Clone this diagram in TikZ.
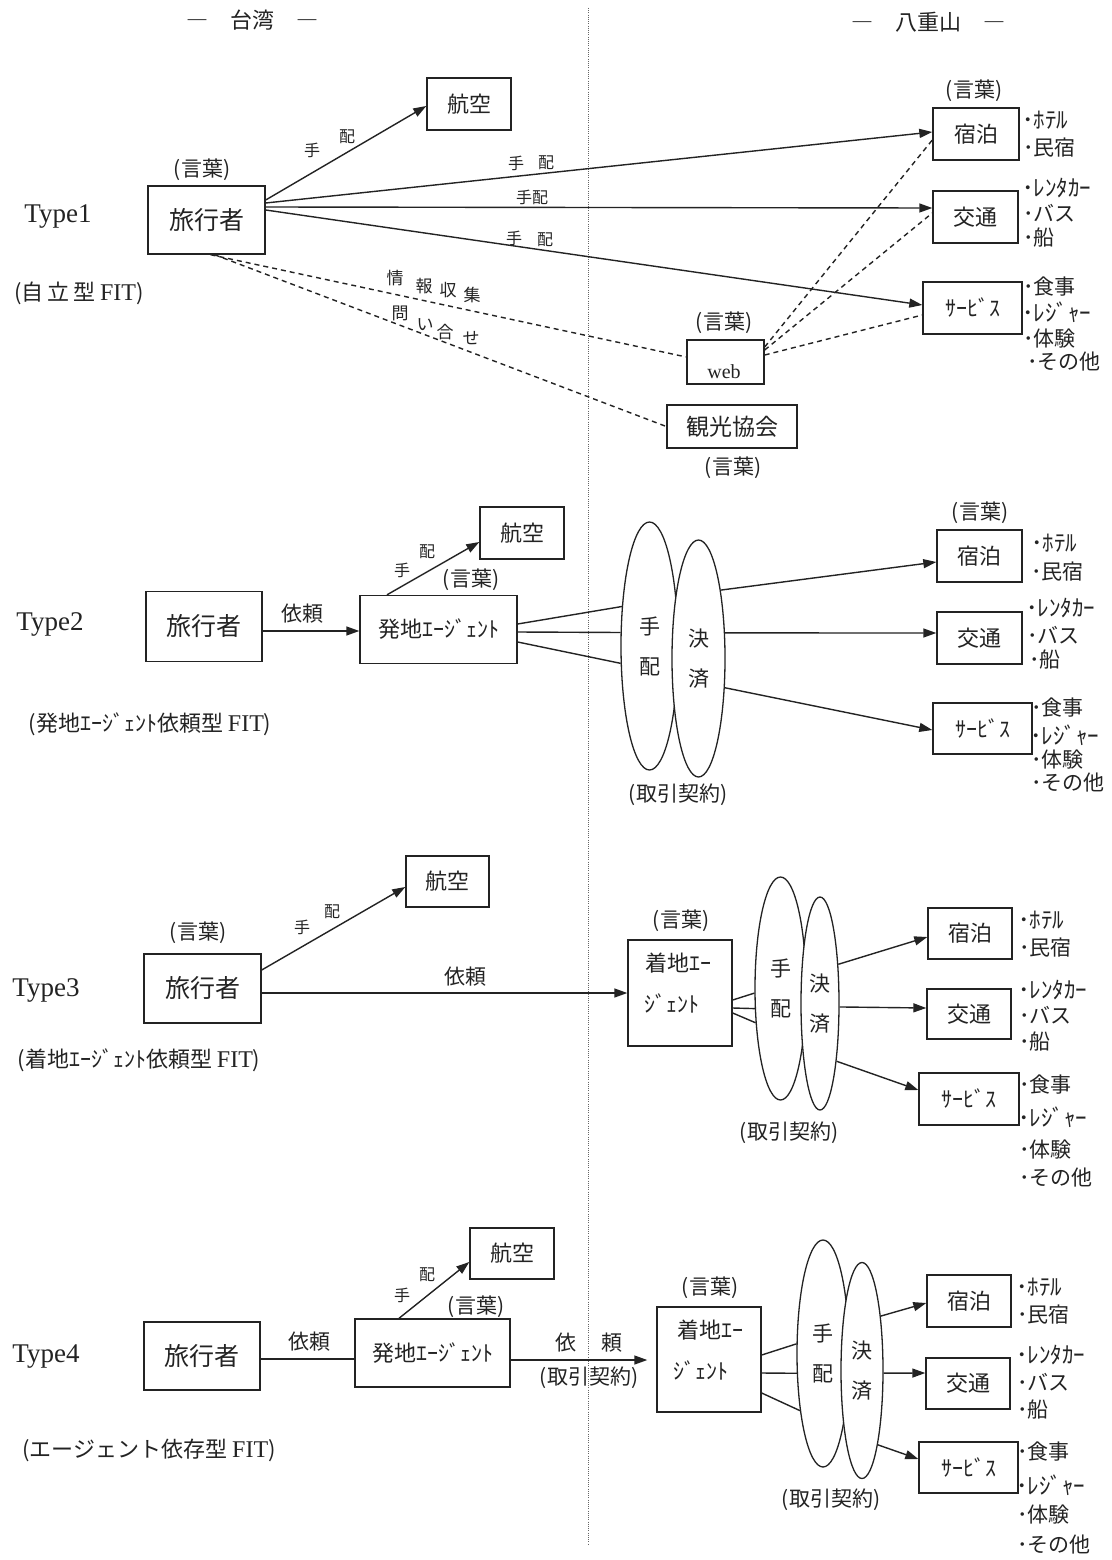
\documentclass[tikz,border=0pt]{standalone}
\usepackage{fontspec}
\setmainfont{Noto Sans CJK JP}
\newfontfamily\lat{Liberation Serif}
\usetikzlibrary{arrows.meta,shapes.geometric}
\newcommand\FS[1]{\fontsize{#1}{#1}\selectfont}
\newcommand\FIT{{\lat\FS{24}FIT}}
\definecolor{ink}{RGB}{35,35,35}
\begin{document}
\begin{tikzpicture}[x=1pt,y=-1pt,
  every node/.style={text=ink},
  bx/.style={draw=ink, line width=1.4pt, inner sep=0pt, font=\FS{22}},
  ell/.style={ellipse, draw=ink, line width=1.3pt, fill=white, inner sep=0pt, align=center, font=\fontsize{21}{40}\selectfont},
  arr/.style={draw=ink, line width=1.4pt, -{Triangle[length=13pt,width=9pt]}},
  ln/.style={draw=ink, line width=1.4pt},
  dsh/.style={draw=ink, line width=1.4pt, dash pattern=on 5pt off 4pt},
  lbl/.style={font=\FS{16}, inner sep=0pt},
  lblb/.style={font=\FS{17}, inner sep=0pt},
  kw/.style={font=\FS{21}, inner sep=0pt},
  txt/.style={font=\FS{22}, inner sep=0pt},
  blt/.style={anchor=west, inner sep=0pt, font=\FS{21}},
  hblt/.style={anchor=west, inner sep=0pt, font=\FS{23}},
  typ/.style={font=\lat\FS{27}, inner sep=0pt},
  sub/.style={font=\FS{22}, inner sep=0pt},
  divider/.style={draw=ink!70, line width=0.9pt, dash pattern=on 1pt off 1.2pt}
]
\fill[white] (0,0) rectangle (1111,1560);
\useasboundingbox (0,0) rectangle (1111,1560);

% headers and divider
\node[font=\FS{22}] (hdrL) at (252,20) {―　台湾　―};
\node[font=\FS{22}] (hdrR) at (928,22) {―　八重山　―};
\coordinate (dtop) at (588,8);
\coordinate (dbot) at (588,1545);
\draw[divider] (dtop) -- (dbot);

%================ Type1
\node[typ] (ty1) at (58,217) {Type1};
\node[sub] (st1) at (79,293) {(自\,立\,型 \FIT)};
\node[bx, minimum width=117, minimum height=68, font=\FS{25}] (tr1) at (206.5,220) {旅行者};
\node[kw] (k1) at (202,170) {(言葉)};
\node[bx, minimum width=84, minimum height=52] (air1) at (469,104) {航空};
\node[bx, minimum width=86, minimum height=52] (acc1) at (976,134) {宿泊};
\node[kw] (k1b) at (974,91) {(言葉)};
\node[bx, minimum width=85, minimum height=52] (trn1) at (975.5,217) {交通};
\node[bx, minimum width=99, minimum height=52, font=\FS{22}] (srv1) at (972.5,308) {ｻｰﾋﾞｽ};
\node[bx, minimum width=77, minimum height=44] (web) at (725.5,362) {};
\node[font=\lat\FS{20}, inner sep=0pt] (webt) at (724,372) {web};
\node[kw] (k1c) at (724,323) {(言葉)};
\node[bx, minimum width=130, minimum height=43, font=\FS{23}] (kk) at (732,426.5) {観光協会};
\node[kw] (k1d) at (733,468) {(言葉)};

\draw[arr] ([yshift=20pt]tr1.east) -- ([yshift=-2pt]air1.west);
\draw[arr] ([yshift=17pt]tr1.east) -- ([yshift=2pt]acc1.west);
\draw[arr] ([yshift=13pt]tr1.east) -- ([yshift=9pt]trn1.west);
\draw[arr] ([yshift=10pt]tr1.east) -- ([yshift=3pt]srv1.west);
\draw[dsh] ([xshift=4pt]tr1.south) -- ([yshift=5pt]web.west);
\draw[dsh] ([xshift=8pt]tr1.south) -- (kk.west);
\draw[dsh] ([yshift=15pt]web.east) -- ([yshift=-6pt]acc1.west);
\draw[dsh] ([yshift=12pt]web.east) -- ([yshift=4pt]trn1.west);
\draw[dsh] ([yshift=7pt]web.east) -- ([yshift=-7pt]srv1.west);

\node[lbl] (l1a) at (312,150) {手};
\node[lbl] (l1b) at (347,137) {配};
\node[lbl] (l1c) at (516,163) {手};
\node[lbl] (l1d) at (546,163) {配};
\node[lbl] (l1e) at (532,197) {手配};
\node[lbl] (l1f) at (514,238) {手};
\node[lbl] (l1g) at (545,240) {配};
\node[lblb] (j1) at (395,278) {情};
\node[lblb] (j2) at (424,286) {報};
\node[lblb] (j3) at (448,290) {収};
\node[lblb] (j4) at (472,295) {集};
\node[lblb] (q1) at (400,313) {問};
\node[lblb] (q2) at (425,325) {い};
\node[lblb] (q3) at (445,332) {合};
\node[lblb] (q4) at (471,338) {せ};

\node[hblt] (b1a) at (1022,120) {･ﾎﾃﾙ};
\node[blt] (b1b) at (1023,148) {･民宿};
\node[hblt] (b1c) at (1022,188) {･ﾚﾝﾀｶｰ};
\node[blt] (b1d) at (1023,213) {･バス};
\node[blt] (b1e) at (1023,238) {･船};
\node[blt] (b1f) at (1023,287) {･食事};
\node[hblt] (b1g) at (1022,312) {･ﾚｼﾞｬｰ};
\node[blt] (b1h) at (1023,339) {･体験};
\node[blt] (b1i) at (1027,362) {･その他};

%================ Type2
\node[typ] (ty2) at (50,624) {Type2};
\node[sub] (st2) at (150,724) {(発地ｴｰｼﾞｪﾝﾄ依頼型 \FIT)};
\node[bx, minimum width=116, minimum height=70, font=\FS{25}] (tr2) at (204,626.5) {旅行者};
\node[font=\FS{21}, inner sep=0pt] (ir2) at (302,614) {依頼};
\node[bx, minimum width=157, minimum height=68, font=\FS{22}] (ag2) at (438.5,629.5) {発地ｴｰｼﾞｪﾝﾄ};
\node[kw] (k2) at (471,580) {(言葉)};
\node[bx, minimum width=84, minimum height=52] (air2) at (522,533) {航空};
\node[ell, minimum width=57, minimum height=248] (ha2) at (649.5,646) {手\\配};
\node[ell, minimum width=53, minimum height=237] (ke2) at (698.5,658.5) {決\\済};
\node[kw] (c2) at (678,795) {(取引契約)};
\node[bx, minimum width=85, minimum height=52] (acc2) at (979.5,556) {宿泊};
\node[kw] (k2b) at (980,513) {(言葉)};
\node[bx, minimum width=85, minimum height=52] (trn2) at (979.5,638) {交通};
\node[bx, minimum width=99, minimum height=51, font=\FS{22}] (srv2) at (982.5,728.5) {ｻｰﾋﾞｽ};

\draw[arr] ([yshift=-4.5pt]tr2.east) -- ([yshift=-1.5pt]ag2.west);
\draw[arr] ([xshift=-51.5pt]ag2.north) -- ([yshift=-9pt]air2.west);
\node[lbl] (l2a) at (402,570) {手};
\node[lbl] (l2b) at (427,552) {配};
\draw[ln] ([yshift=5.5pt]ag2.east) -- (ha2.125);
\draw[ln] ([yshift=-2.5pt]ag2.east) -- (ha2.155);
\draw[ln] ([yshift=-12.5pt]ag2.east) -- (ha2.211);
\draw[arr] (ke2.72) -- ([yshift=-6pt]acc2.west);
\draw[arr] (ke2.44) -- ([yshift=5pt]trn2.west);
\draw[arr] (ke2.312) -- ([yshift=-1.5pt]srv2.west);

\node[hblt] (b2a) at (1031,543) {･ﾎﾃﾙ};
\node[blt] (b2b) at (1031,572) {･民宿};
\node[hblt] (b2c) at (1026,608) {･ﾚﾝﾀｶｰ};
\node[blt] (b2d) at (1027,635) {･バス};
\node[blt] (b2e) at (1029,660) {･船};
\node[blt] (b2f) at (1031,708) {･食事};
\node[hblt] (b2g) at (1030,735) {･ﾚｼﾞｬｰ};
\node[blt] (b2h) at (1031,760) {･体験};
\node[blt] (b2i) at (1031,783) {･その他};

%================ Type3
\node[typ] (ty3) at (46,990) {Type3};
\node[sub] (st3) at (139,1060) {(着地ｴｰｼﾞｪﾝﾄ依頼型 \FIT)};
\node[bx, minimum width=117, minimum height=69, font=\FS{25}] (tr3) at (202.5,988.5) {旅行者};
\node[kw] (k3) at (198,933) {(言葉)};
\node[bx, minimum width=83, minimum height=51] (air3) at (447.5,881.5) {航空};
\node[font=\FS{21}, inner sep=0pt] (ir3) at (465,977) {依頼};
\node[bx, minimum width=104, minimum height=106] (ag3) at (680,993) {};
\node[txt] (ag3a) at (678,963) {着地ｴｰ};
\node[txt] (ag3b) at (672,1003) {ｼﾞｪﾝﾄ};
\node[kw] (k3b) at (681,921) {(言葉)};
\node[ell, minimum width=51, minimum height=223] (ha3) at (780.5,988.5) {手\\配};
\node[ell, minimum width=38, minimum height=213] (ke3) at (820,1003.5) {決\\済};
\node[kw] (c3) at (789,1133) {(取引契約)};
\node[bx, minimum width=84, minimum height=51] (acc3) at (970,933.5) {宿泊};
\node[bx, minimum width=84, minimum height=50] (trn3) at (969,1014) {交通};
\node[bx, minimum width=100, minimum height=52, font=\FS{22}] (srv3) at (969,1099) {ｻｰﾋﾞｽ};

\draw[arr] ([yshift=18.5pt]tr3.east) -- ([yshift=-5.5pt]air3.west);
\node[lbl] (l3a) at (302,927) {手};
\node[lbl] (l3b) at (332,912) {配};
\draw[arr] ([yshift=-4.5pt]tr3.east) -- (ag3.west);
\draw[ln] ([yshift=-7pt]ag3.east) -- (ha3.190);
\draw[ln] ([yshift=-15pt]ag3.east) -- (ha3.218);
\draw[ln] ([yshift=-20pt]ag3.east) -- (ha3.234);
\draw[arr] (ke3.65) -- ([yshift=-3.5pt]acc3.west);
\draw[arr] (ke3.350) -- ([yshift=6pt]trn3.west);
\draw[arr] (ke3.286) -- ([yshift=9pt]srv3.west);

\node[hblt] (b3a) at (1018,920) {･ﾎﾃﾙ};
\node[blt] (b3b) at (1019,948) {･民宿};
\node[hblt] (b3c) at (1018,990) {･ﾚﾝﾀｶｰ};
\node[blt] (b3d) at (1019,1015) {･バス};
\node[blt] (b3e) at (1019,1042) {･船};
\node[blt] (b3f) at (1019,1085) {･食事};
\node[hblt] (b3g) at (1018,1117) {･ﾚｼﾞｬｰ};
\node[blt] (b3h) at (1019,1150) {･体験};
\node[blt] (b3i) at (1019,1178) {･その他};

%================ Type4
\node[typ] (ty4) at (46,1357) {Type4};
\node[sub] (st4) at (149,1450) {(エージェント依存型 \FIT)};
\node[bx, minimum width=116, minimum height=68, font=\FS{25}] (tr4) at (202,1356) {旅行者};
\node[font=\FS{21}, inner sep=0pt] (ir4) at (309,1342) {依頼};
\node[bx, minimum width=155, minimum height=68, font=\FS{22}] (ag4) at (432.5,1353) {発地ｴｰｼﾞｪﾝﾄ};
\node[kw] (k4) at (476,1307) {(言葉)};
\node[bx, minimum width=84, minimum height=51] (air4) at (512,1253.5) {航空};
\node[font=\FS{21}, inner sep=0pt] (ir4a) at (566,1343) {依};
\node[font=\FS{21}, inner sep=0pt] (ir4b) at (612,1343) {頼};
\node[kw] (c4a) at (589,1378) {(取引契約)};
\node[bx, minimum width=104, minimum height=105] (ag5) at (709,1359.5) {};
\node[txt] (ag5a) at (710,1330) {着地ｴｰ};
\node[txt] (ag5b) at (701,1370) {ｼﾞｪﾝﾄ};
\node[kw] (k4b) at (710,1288) {(言葉)};
\node[ell, minimum width=52, minimum height=227] (ha4) at (823,1353.5) {手\\配};
\node[ell, minimum width=42, minimum height=216] (ke4) at (862,1370.5) {決\\済};
\node[kw] (c4) at (831,1500) {(取引契約)};
\node[bx, minimum width=84, minimum height=52] (acc4) at (969,1301) {宿泊};
\node[bx, minimum width=84, minimum height=51] (trn4) at (968,1383.5) {交通};
\node[bx, minimum width=99, minimum height=51, font=\FS{22}] (srv4) at (968.5,1467.5) {ｻｰﾋﾞｽ};

\draw[ln] ([yshift=-3pt]tr4.east) -- ([yshift=-6pt]ag4.west);
\draw[arr] ([xshift=-33.5pt]ag4.north) -- ([yshift=-8.5pt]air4.west);
\node[lbl] (l4a) at (402,1295) {手};
\node[lbl] (l4b) at (427,1275) {配};
\draw[arr, shorten >=9pt] ([yshift=-7pt]ag4.east) -- ([yshift=-0.5pt]ag5.west);
\draw[ln] ([yshift=4.5pt]ag5.east) -- (ha4.160);
\draw[ln] ([yshift=-13.5pt]ag5.east) -- (ha4.217);
\draw[ln] ([yshift=-33.5pt]ag5.east) -- (ha4.248);
\draw[arr] (ke4.71) -- ([yshift=-2pt]acc4.west);
\draw[arr] (ke4.353) -- ([yshift=10.5pt]trn4.west);
\draw[arr] (ke4.282) -- ([yshift=8.5pt]srv4.west);

\node[hblt] (b4a) at (1016,1287) {･ﾎﾃﾙ};
\node[blt] (b4b) at (1017,1315) {･民宿};
\node[hblt] (b4c) at (1016,1355) {･ﾚﾝﾀｶｰ};
\node[blt] (b4d) at (1017,1382) {･バス};
\node[blt] (b4e) at (1017,1410) {･船};
\node[blt] (b4f) at (1017,1452) {･食事};
\node[hblt] (b4g) at (1016,1485) {･ﾚｼﾞｬｰ};
\node[blt] (b4h) at (1017,1515) {･体験};
\node[blt] (b4i) at (1017,1545) {･その他};
\end{tikzpicture}
\end{document}
